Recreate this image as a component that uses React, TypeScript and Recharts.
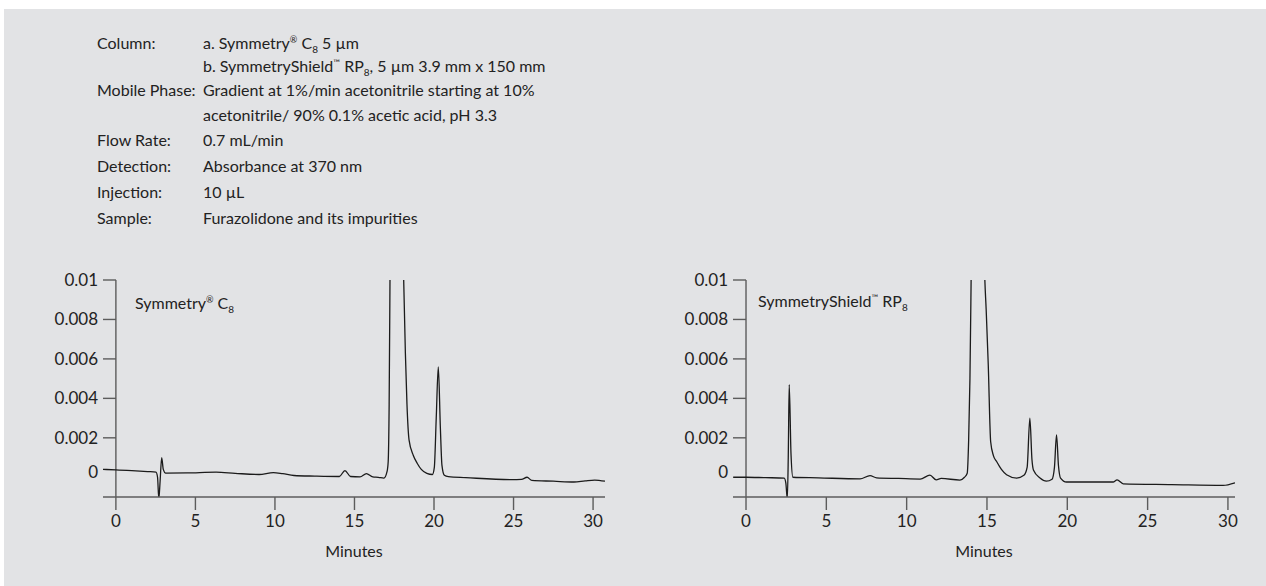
import React from 'react';
import { LineChart, Line, XAxis, YAxis, ReferenceLine } from 'recharts';

// chromatogram traces (time in minutes, absorbance in AU)
const leftTime = [
  -0.82, 0, 1.0, 2.0, 2.52, 2.62, 2.7, 2.78, 2.88, 2.98, 3.13, 4.5, 6.3, 7.5, 9.0, 9.9, 10.5, 11.2,
  12.5, 14.05, 14.4, 14.75, 15.35, 15.75, 16.15, 16.5, 16.85, 17.05, 17.12, 17.18, 17.24, 17.65,
  18.02, 18.1, 18.2, 18.3, 18.43, 18.7, 18.95, 19.2, 19.55, 19.9, 20.02, 20.14, 20.27, 20.4, 20.5,
  20.65, 20.9, 22.0, 24.9, 25.5, 25.85, 26.15, 27.5, 28.8, 29.5, 30.1, 30.75,
];
const leftAbs = [
  0.0004, 0.00038, 0.00034, 0.00029, 0.00026, 0.0, -0.0011, -0.0002, 0.001, 0.0004, 0.00021, 0.00022,
  0.00026, 0.0002, 0.00014, 0.00024, 0.00018, 0.00009, 0.00006, 0.00004, 0.00034, 0.00004, 0.00002,
  0.00019, 0.00002, 0.0, -0.00004, 0.0003, 0.0008, 0.0037, 0.011, 0.045, 0.013, 0.0098, 0.0063,
  0.0037, 0.0019, 0.0011, 0.0007, 0.0004, 0.0002, 0.00014, 0.0005, 0.003, 0.0056, 0.0025, 0.0006,
  0.0001, 0.00003, -0.00002, -0.00012, -0.00011, 0.0, -0.00016, -0.0002, -0.00024, -0.00018,
  -0.00014, -0.0002,
];

const rightTime = [
  -0.8, 0, 1.2, 2.38, 2.48, 2.57, 2.63, 2.69, 2.8, 2.92, 4.5, 7.1, 7.72, 8.13, 9.5, 10.84, 11.45,
  11.84, 12.15, 13.32, 13.6, 13.77, 13.86, 13.94, 14.02, 14.45, 14.85, 14.95, 15.08, 15.23, 15.4,
  15.6, 15.9, 16.22, 16.85, 17.3, 17.5, 17.67, 17.8, 17.9, 18.3, 18.7, 19.05, 19.2, 19.33, 19.45,
  19.58, 19.95, 22.85, 23.1, 23.48, 26.5, 29.7, 30.44,
];
const rightAbs = [
  0.0, 0.0, -0.00002, -0.00004, -0.0003, -0.0011, 0.001, 0.0047, 0.0012, 0.0, -0.00003, -0.00008,
  0.00008, -0.00003, -0.00006, -0.00009, 0.00011, -0.00013, -0.00006, -0.00014, 0.0, 0.0002, 0.0019,
  0.005, 0.0105, 0.045, 0.0105, 0.0085, 0.0057, 0.0018, 0.0011, 0.0008, 0.0004, 0.00013, -0.00004,
  0.0001, 0.0005, 0.003, 0.0009, 0.00035, -0.00004, -0.0002, -0.0001, 0.0005, 0.00215, 0.0006,
  -0.00004, -0.00024, -0.00024, -0.00013, -0.00033, -0.00037, -0.00041, -0.00028,
];

const xTicks = [0, 5, 10, 15, 20, 25, 30];
const yTicks = [0, 0.002, 0.004, 0.006, 0.008, 0.01];

const leftData = leftTime.map((t, i) => ({ t, v: leftAbs[i] }));
const rightData = rightTime.map((t, i) => ({ t, v: rightAbs[i] }));

const FONT = 'Lato, "DejaVu Sans", sans-serif';
const TEXT = '#222';
const AXIS = '#5c5c5c';
const TRACE = '#1b1b1b';
const TICK_FS = 17;

const YTick = (props: any) => {
  const { x, y, payload } = props;
  const v = payload.value;
  return (
    <g>
      {v !== 0 && <line x1={x + 5} x2={x + 18} y1={y} y2={y} stroke={AXIS} strokeWidth={1.4} />}
      <text x={x} y={v === 0 ? y - 5 : y} dy={6} textAnchor="end" fontSize={TICK_FS} fill={TEXT} fontFamily={FONT}>
        {String(v)}
      </text>
    </g>
  );
};

const Chrom = ({ data, xMax }: { data: { t: number; v: number }[]; xMax: number }) => (
  <LineChart width={630} height={300} data={data} margin={{ top: 10, right: 630 - 103 - 502, left: 0, bottom: 13 }}>
    <XAxis
      type="number"
      dataKey="t"
      domain={[-0.81, xMax]}
      allowDataOverflow
      ticks={xTicks}
      interval={0}
      tickSize={13}
      tickMargin={5}
      height={60}
      axisLine={{ stroke: AXIS, strokeWidth: 1.4 }}
      tickLine={{ stroke: AXIS, strokeWidth: 1.4 }}
      tick={{ fontSize: TICK_FS, fill: TEXT, fontFamily: FONT }}
      label={{ value: 'Minutes', position: 'insideBottom', offset: 0, fontSize: 16, fill: TEXT, fontFamily: FONT }}
    />
    <YAxis
      type="number"
      domain={[-0.001, 0.01]}
      allowDataOverflow
      ticks={yTicks}
      interval={0}
      width={103}
      tickSize={0}
      tickMargin={5}
      axisLine={false}
      tickLine={false}
      tick={<YTick />}
    />
    <ReferenceLine x={0} stroke={AXIS} strokeWidth={1.4} />
    <Line type="monotone" dataKey="v" stroke={TRACE} strokeWidth={1.3} dot={false} isAnimationActive={false} />
  </LineChart>
);

const rowStyle = (top: number): React.CSSProperties => ({
  position: 'absolute',
  top,
  left: 0,
  whiteSpace: 'nowrap',
  lineHeight: '20px',
});

const sup: React.CSSProperties = { fontSize: 9, verticalAlign: 'super', lineHeight: 0 };
const sub: React.CSSProperties = { fontSize: 10, verticalAlign: 'sub', lineHeight: 0 };

const Row = ({ top, label, children }: { top: number; label?: string; children: React.ReactNode }) => (
  <div style={rowStyle(top)}>
    <span style={{ position: 'absolute', left: 97 }}>{label}</span>
    <span style={{ position: 'absolute', left: 203 }}>{children}</span>
  </div>
);

export default function App() {
  return (
    <div style={{ position: 'fixed', left: 0, top: 0, width: 1266, height: 586, background: '#fff', overflow: 'hidden' }}>
      <div
        style={{
          position: 'absolute',
          left: 4,
          top: 9,
          width: 1262,
          height: 577,
          background: '#e2e3e5',
        }}
      />
      <div style={{ position: 'absolute', left: 0, top: 0, width: 1266, height: 586, fontFamily: FONT, fontSize: 16, color: TEXT }}>
        <Row top={33} label="Column:">
          a. Symmetry<span style={sup}>®</span> C<span style={sub}>8</span> 5 µm
        </Row>
        <Row top={56}>
          b. SymmetryShield<span style={sup}>™</span> RP<span style={sub}>8</span>, 5 µm 3.9 mm x 150 mm
        </Row>
        <Row top={80} label="Mobile Phase:">Gradient at 1%/min acetonitrile starting at 10%</Row>
        <Row top={105}>acetonitrile/ 90% 0.1% acetic acid, pH 3.3</Row>
        <Row top={130} label="Flow Rate:">0.7 mL/min</Row>
        <Row top={156} label="Detection:">Absorbance at 370 nm</Row>
        <Row top={182} label="Injection:">10 µL</Row>
        <Row top={208} label="Sample:">Furazolidone and its impurities</Row>

        <div style={{ position: 'absolute', left: 0, top: 270 }}>
          <Chrom data={leftData} xMax={30.75} />
        </div>
        <div style={{ position: 'absolute', left: 630, top: 270 }}>
          <Chrom data={rightData} xMax={30.44} />
        </div>

        <div style={{ position: 'absolute', left: 135, top: 293, lineHeight: '20px', whiteSpace: 'nowrap' }}>
          Symmetry<span style={sup}>®</span> C<span style={sub}>8</span>
        </div>
        <div style={{ position: 'absolute', left: 758, top: 291, lineHeight: '20px', whiteSpace: 'nowrap' }}>
          SymmetryShield<span style={sup}>™</span> RP<span style={sub}>8</span>
        </div>
      </div>
    </div>
  );
}
